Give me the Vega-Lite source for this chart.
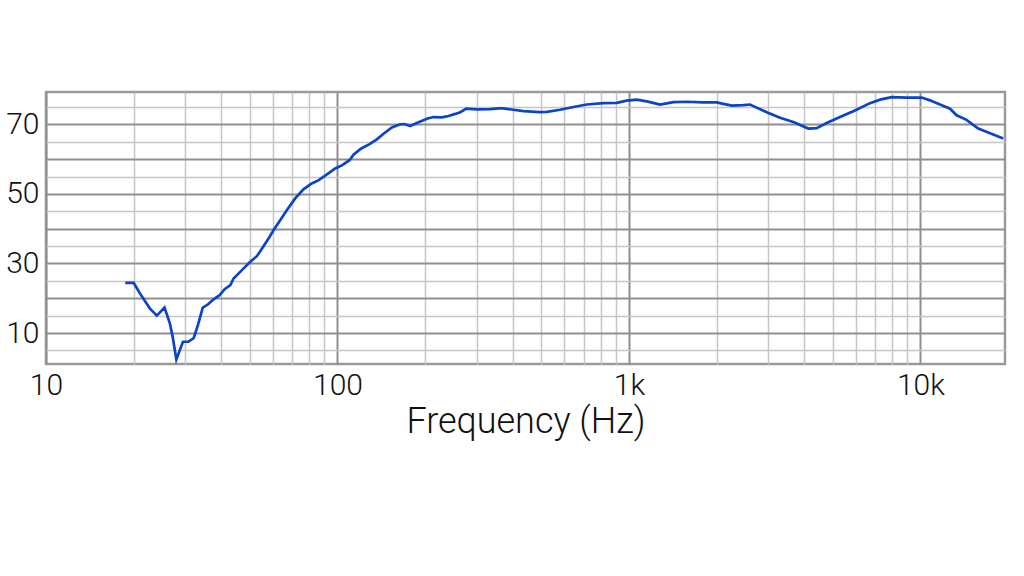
{
  "$schema": "https://vega.github.io/schema/vega-lite/v6.json",
  "width": 959,
  "height": 272,
  "autosize": "none",
  "padding": {"left": 46, "top": 92, "right": 19, "bottom": 212},
  "background": "white",
  "config": {"view": {"stroke": "#9a9a9a", "strokeWidth": 2.5}, "font": "Roboto"},
  "data": {"values": [
    {"hz": 18.7, "db": 24.4}, {"hz": 20, "db": 24.4}, {"hz": 21.0, "db": 21.4}, {"hz": 22.7, "db": 17.1},
    {"hz": 24.0, "db": 15.0}, {"hz": 25.5, "db": 17.3}, {"hz": 26.6, "db": 12.8}, {"hz": 27.2, "db": 8.9},
    {"hz": 28.0, "db": 2.4}, {"hz": 29.5, "db": 7.5}, {"hz": 30.8, "db": 7.5}, {"hz": 32.1, "db": 8.5},
    {"hz": 33.2, "db": 12.3}, {"hz": 34.5, "db": 17.3}, {"hz": 35.9, "db": 18.2}, {"hz": 37.6, "db": 19.7},
    {"hz": 39.4, "db": 20.9}, {"hz": 41.0, "db": 22.6}, {"hz": 42.9, "db": 23.8}, {"hz": 44.0, "db": 25.7},
    {"hz": 47.0, "db": 28.1}, {"hz": 50.2, "db": 30.5}, {"hz": 52.9, "db": 32.1}, {"hz": 55.1, "db": 34.3},
    {"hz": 58.0, "db": 37.2}, {"hz": 60.4, "db": 39.6}, {"hz": 63.6, "db": 42.4}, {"hz": 67.0, "db": 45.3},
    {"hz": 71.6, "db": 48.7}, {"hz": 76.4, "db": 51.3}, {"hz": 81.6, "db": 53.0}, {"hz": 86.0, "db": 53.9},
    {"hz": 92.0, "db": 55.6}, {"hz": 98.2, "db": 57.3}, {"hz": 103.5, "db": 58.2}, {"hz": 110, "db": 59.7},
    {"hz": 113.5, "db": 61.3}, {"hz": 120.3, "db": 63.0}, {"hz": 128.8, "db": 64.3}, {"hz": 136.5, "db": 65.7},
    {"hz": 143.9, "db": 67.3}, {"hz": 153.7, "db": 69.1}, {"hz": 164.2, "db": 70.0}, {"hz": 169.4, "db": 70.1},
    {"hz": 177.6, "db": 69.5}, {"hz": 187.2, "db": 70.4}, {"hz": 202.6, "db": 71.6}, {"hz": 213.4, "db": 72.1},
    {"hz": 228, "db": 72.0}, {"hz": 240.3, "db": 72.4}, {"hz": 253.5, "db": 73.0}, {"hz": 263.8, "db": 73.5},
    {"hz": 276.4, "db": 74.5}, {"hz": 300.6, "db": 74.3}, {"hz": 334, "db": 74.4}, {"hz": 356.6, "db": 74.6},
    {"hz": 370.5, "db": 74.6}, {"hz": 401, "db": 74.2}, {"hz": 434.6, "db": 73.8}, {"hz": 495.6, "db": 73.5},
    {"hz": 522.6, "db": 73.6}, {"hz": 580.5, "db": 74.2}, {"hz": 644.6, "db": 75.0}, {"hz": 716, "db": 75.7},
    {"hz": 817, "db": 76.1}, {"hz": 908, "db": 76.2}, {"hz": 982.5, "db": 76.8}, {"hz": 1063, "db": 77.1},
    {"hz": 1151, "db": 76.6}, {"hz": 1279, "db": 75.7}, {"hz": 1420, "db": 76.4}, {"hz": 1578, "db": 76.5},
    {"hz": 1799, "db": 76.3}, {"hz": 2000, "db": 76.3}, {"hz": 2108, "db": 75.9}, {"hz": 2253, "db": 75.4},
    {"hz": 2468, "db": 75.5}, {"hz": 2603, "db": 75.7}, {"hz": 2742, "db": 74.8}, {"hz": 2969, "db": 73.5},
    {"hz": 3298, "db": 71.9}, {"hz": 3662, "db": 70.7}, {"hz": 4124, "db": 68.8}, {"hz": 4405, "db": 68.9},
    {"hz": 4767, "db": 70.4}, {"hz": 5295, "db": 72.1}, {"hz": 5961, "db": 74.0}, {"hz": 6712, "db": 76.1},
    {"hz": 7268, "db": 77.1}, {"hz": 7965, "db": 77.8}, {"hz": 8967, "db": 77.7}, {"hz": 10100, "db": 77.7},
    {"hz": 10780, "db": 76.9}, {"hz": 11670, "db": 75.7}, {"hz": 12630, "db": 74.5}, {"hz": 13310, "db": 72.6},
    {"hz": 14390, "db": 71.3}, {"hz": 15780, "db": 68.8}, {"hz": 17770, "db": 67.1}, {"hz": 19230, "db": 65.9}
  ]},
  "mark": {"type": "line", "color": "#0b45c6", "strokeWidth": 2.7, "clip": true},
  "encoding": {
    "x": {
      "field": "hz",
      "type": "quantitative",
      "scale": {"type": "log", "domain": [10, 19500], "nice": false},
      "axis": {
        "values": [10, 20, 30, 40, 50, 60, 70, 80, 90, 100, 200, 300, 400, 500, 600, 700, 800, 900, 1000, 2000, 3000, 4000, 5000, 6000, 7000, 8000, 9000, 10000],
        "labelExpr": "datum.value == 10 ? '10' : datum.value == 100 ? '100' : datum.value == 1000 ? '1k' : datum.value == 10000 ? '10k' : ''",
        "labelOverlap": false,
        "labelFlush": false,
        "labelFontSize": 30,
        "labelFontWeight": 300,
        "labelColor": "#111111",
        "labelPadding": 6,
        "ticks": false,
        "domain": false,
        "grid": true,
        "gridOpacity": 1,
        "gridColor": {"condition": {"test": "indexof([10, 100, 1000, 10000], datum.value) >= 0", "value": "#8f8f8f"}, "value": "#c6c6c6"},
        "gridWidth": {"condition": {"test": "indexof([10, 100, 1000, 10000], datum.value) >= 0", "value": 2}, "value": 1.5},
        "title": "Frequency (Hz)",
        "titleFontSize": 36,
        "titleFontWeight": 300,
        "titleColor": "#111111",
        "titlePadding": 4
      }
    },
    "y": {
      "field": "db",
      "type": "quantitative",
      "scale": {"domain": [1.1, 79.3], "nice": false, "zero": false},
      "axis": {
        "values": [5, 10, 15, 20, 25, 30, 35, 40, 45, 50, 55, 60, 65, 70, 75],
        "labelExpr": "datum.value % 20 == 10 ? datum.label : ''",
        "labelOverlap": false,
        "labelFlush": false,
        "labelFontSize": 30,
        "labelFontWeight": 300,
        "labelColor": "#111111",
        "labelPadding": 7,
        "ticks": false,
        "domain": false,
        "grid": true,
        "gridOpacity": 1,
        "gridColor": {"condition": {"test": "datum.value % 10 == 0", "value": "#8f8f8f"}, "value": "#c6c6c6"},
        "gridWidth": {"condition": {"test": "datum.value % 10 == 0", "value": 2}, "value": 1.5},
        "title": null
      }
    }
  }
}
